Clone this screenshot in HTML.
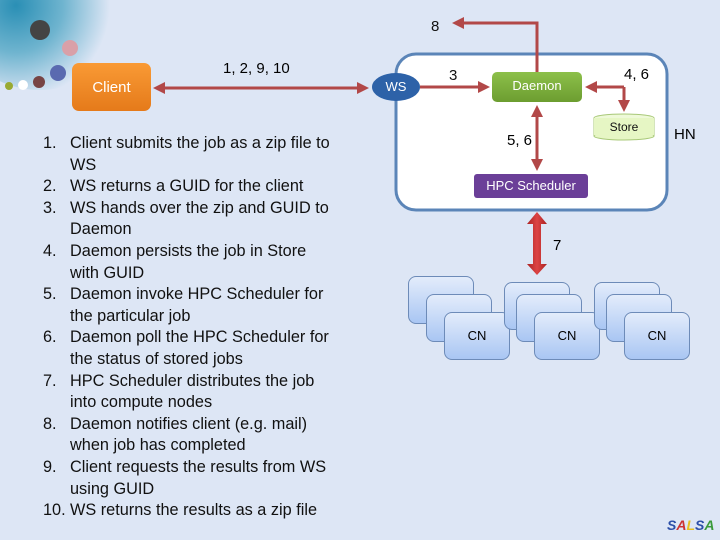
<!DOCTYPE html>
<html><head><style>
body{margin:0;width:720px;height:540px;overflow:hidden;background:#dde6f5;font-family:"Liberation Sans",sans-serif;position:relative}
.a{position:absolute;white-space:nowrap}
.li{position:absolute;font-size:16.3px;color:#111;white-space:nowrap;line-height:19px}
.cn{position:absolute;width:64px;height:46px;border:1px solid #6d8bb8;border-radius:8px;background:linear-gradient(#e3ecfb,#a9c6f3)}
</style></head><body>
<div class="a" style="left:-40px;top:-40px;width:160px;height:130px;border-radius:50%;background:radial-gradient(circle at 35% 35%,#2a8fb5 0%,#6fb4cf 35%,rgba(221,230,245,0) 70%)"></div>
<div class="a" style="left:30px;top:20px;width:20px;height:20px;border-radius:50%;background:#444"></div>
<div class="a" style="left:62px;top:40px;width:16px;height:16px;border-radius:50%;background:#d9a0a8"></div>
<div class="a" style="left:50px;top:65px;width:16px;height:16px;border-radius:50%;background:#5a6ab0"></div>
<div class="a" style="left:5px;top:82px;width:8px;height:8px;border-radius:50%;background:#9a3"></div>
<div class="a" style="left:18px;top:80px;width:10px;height:10px;border-radius:50%;background:#fff"></div>
<div class="a" style="left:33px;top:76px;width:12px;height:12px;border-radius:50%;background:#744"></div>

<svg class="a" style="left:0;top:0" width="720" height="540">
<defs>
<marker id="m" markerWidth="4" markerHeight="4" refX="3" refY="2" orient="auto" markerUnits="strokeWidth"><path d="M0,0L4,2L0,4z" fill="#b24848"/></marker>
<linearGradient id="o" x1="0" y1="0" x2="0" y2="1"><stop offset="0" stop-color="#f99a35"/><stop offset="1" stop-color="#e57a1a"/></linearGradient>
<linearGradient id="g" x1="0" y1="0" x2="0" y2="1"><stop offset="0" stop-color="#8dc04a"/><stop offset="1" stop-color="#6c9d30"/></linearGradient>
<linearGradient id="r" x1="0" y1="0" x2="1" y2="0"><stop offset="0" stop-color="#a22"/><stop offset=".5" stop-color="#d44"/><stop offset="1" stop-color="#a22"/></linearGradient>
</defs>
<rect x="396" y="54" width="271" height="156" rx="20" fill="#fff" stroke="#5b85b8" stroke-width="3"/>
<line x1="360" y1="88" x2="156" y2="88" stroke="#b24848" stroke-width="3" marker-end="url(#m)"/>
<line x1="355" y1="88" x2="366" y2="88" stroke="#b24848" stroke-width="3" marker-end="url(#m)"/>
<rect x="72" y="63" width="79" height="48" rx="7" fill="url(#o)"/>
<ellipse cx="396" cy="87" rx="24" ry="14" fill="#2d62a8"/>
<line x1="420" y1="87" x2="487" y2="87" stroke="#b24848" stroke-width="3" marker-end="url(#m)"/>
<polyline points="537,72 537,23 455,23" fill="none" stroke="#b24848" stroke-width="3" marker-end="url(#m)"/>
<polyline points="624,87 624,109" fill="none" stroke="#b24848" stroke-width="3" marker-end="url(#m)"/>
<line x1="624" y1="87" x2="588" y2="87" stroke="#b24848" stroke-width="3" marker-end="url(#m)"/>
<line x1="537" y1="140" x2="537" y2="108" stroke="#b24848" stroke-width="3" marker-end="url(#m)"/>
<line x1="537" y1="140" x2="537" y2="168" stroke="#b24848" stroke-width="3" marker-end="url(#m)"/>
<rect x="492" y="72" width="90" height="30" rx="5" fill="url(#g)"/>
<rect x="594" y="118" width="60" height="18" fill="#e6f6c4" stroke="#a8c878"/>
<ellipse cx="624" cy="136" rx="30" ry="4" fill="#e6f6c4" stroke="#a8c878"/>
<ellipse cx="624" cy="118" rx="30" ry="4" fill="#eef9d8" stroke="#a8c878"/>
<rect x="594" y="118" width="60" height="17" fill="#e6f6c4"/>
<rect x="474" y="174" width="114" height="24" rx="3" fill="#6b3f98"/>
<polygon points="537,212 547,224 541,224 541,264 547,264 537,275 527,264 533,264 533,224 527,224" fill="url(#r)"/>
<text x="449" y="80" font-size="15" fill="#111">3</text>
<text x="431" y="31" font-size="15" fill="#111">8</text>
</svg>
<div class="a" style="left:72px;top:79px;width:79px;text-align:center;color:#fff;font-size:15px">Client</div>
<div class="a" style="left:372px;top:79px;width:48px;text-align:center;color:#fff;font-size:13px">WS</div>
<div class="a" style="left:492px;top:78px;width:90px;text-align:center;color:#fff;font-size:13px">Daemon</div>
<div class="a" style="left:594px;top:120px;width:60px;text-align:center;color:#111;font-size:12px">Store</div>
<div class="a" style="left:474px;top:178px;width:114px;text-align:center;color:#fff;font-size:13px">HPC Scheduler</div>
<div class="a" style="left:223px;top:60px;font-size:15px">1, 2, 9, 10</div>
<div class="a" style="left:624px;top:66px;font-size:15px">4, 6</div>
<div class="a" style="left:507px;top:132px;font-size:15px">5, 6</div>
<div class="a" style="left:674px;top:126px;font-size:15px">HN</div>
<div class="a" style="left:553px;top:237px;font-size:15px">7</div>

<div class="cn" style="left:408px;top:276px"></div><div class="cn" style="left:426px;top:294px"></div>
<div class="cn" style="left:444px;top:312px;line-height:46px;text-align:center;font-size:13px">CN</div>
<div class="cn" style="left:504px;top:282px"></div><div class="cn" style="left:516px;top:294px"></div>
<div class="cn" style="left:534px;top:312px;line-height:46px;text-align:center;font-size:13px">CN</div>
<div class="cn" style="left:594px;top:282px"></div><div class="cn" style="left:606px;top:294px"></div>
<div class="cn" style="left:624px;top:312px;line-height:46px;text-align:center;font-size:13px">CN</div>

<div class="li" style="left:43px;top:134px">1.</div><div class="li" style="left:70px;top:134px">Client submits the job as a zip file to</div>
<div class="li" style="left:70px;top:156px">WS</div>
<div class="li" style="left:43px;top:177px">2.</div><div class="li" style="left:70px;top:177px">WS returns a GUID for the client</div>
<div class="li" style="left:43px;top:199px">3.</div><div class="li" style="left:70px;top:199px">WS hands over the zip and GUID to</div>
<div class="li" style="left:70px;top:220px">Daemon</div>
<div class="li" style="left:43px;top:242px">4.</div><div class="li" style="left:70px;top:242px">Daemon persists the job in Store</div>
<div class="li" style="left:70px;top:264px">with GUID</div>
<div class="li" style="left:43px;top:285px">5.</div><div class="li" style="left:70px;top:285px">Daemon invoke HPC Scheduler for</div>
<div class="li" style="left:70px;top:307px">the particular job</div>
<div class="li" style="left:43px;top:328px">6.</div><div class="li" style="left:70px;top:328px">Daemon poll the HPC Scheduler for</div>
<div class="li" style="left:70px;top:350px">the status of stored jobs</div>
<div class="li" style="left:43px;top:372px">7.</div><div class="li" style="left:70px;top:372px">HPC Scheduler distributes the job</div>
<div class="li" style="left:70px;top:393px">into compute nodes</div>
<div class="li" style="left:43px;top:415px">8.</div><div class="li" style="left:70px;top:415px">Daemon notifies client (e.g. mail)</div>
<div class="li" style="left:70px;top:436px">when job has completed</div>
<div class="li" style="left:43px;top:458px">9.</div><div class="li" style="left:70px;top:458px">Client requests the results from WS</div>
<div class="li" style="left:70px;top:480px">using GUID</div>
<div class="li" style="left:43px;top:501px">10.</div><div class="li" style="left:70px;top:501px">WS returns the results as a zip file</div>

<div class="a" style="left:667px;top:517px;font-size:14px;font-weight:bold;font-style:italic"><span style="color:#2b4ea8">S</span><span style="color:#c33">A</span><span style="color:#e8c020">L</span><span style="color:#2b4ea8">S</span><span style="color:#3a9a3a">A</span></div>
</body></html>
